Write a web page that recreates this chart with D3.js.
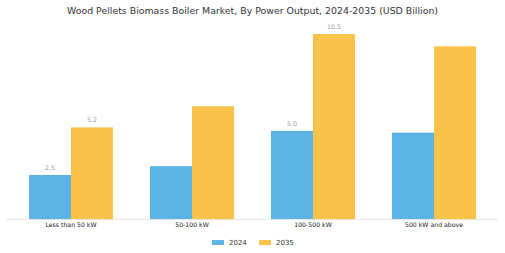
<!DOCTYPE html>
<html>
<head>
<meta charset="utf-8">
<script src="https://cdn.jsdelivr.net/npm/d3@7"></script>
<style>
  body { margin: 0; background: #fff; }
  svg { display: block; font-family: "DejaVu Sans", sans-serif; }
</style>
</head>
<body>
<svg id="chart" width="505" height="253"></svg>
<script>
var categories = ["Less than 50 kW", "50-100 kW", "100-500 kW", "500 kW and above"];
var years = ["2024", "2035"];
var values2024 = [2.5, 3.0, 5.0, 4.9];
var values2035 = [5.2, 6.4, 10.5, 9.8];
// only these bars carry a value label in the original
var labelled = ["Less than 50 kW", "100-500 kW"];
var colors = ["#5db3e6", "#f9c34b"];

var svg = d3.select("#chart");
var width = 505, height = 253;

var data = categories.map((c, i) => ({
    cat: c,
    vals: [{ year: "2024", v: values2024[i] }, { year: "2035", v: values2035[i] }]
}));

var x = d3.scaleBand()
    .domain(categories)
    .range([10.5, 494.5])
    .paddingInner(0.306)
    .paddingOuter(0.153);

var xSub = d3.scaleBand()
    .domain(years)
    .range([0, x.bandwidth()]);

var y = d3.scaleLinear()
    .domain([0, 10.5])
    .range([219, 34]);

var color = d3.scaleOrdinal().domain(years).range(colors);

svg.append("text")
    .attr("x", width / 2)
    .attr("y", 13.5)
    .attr("text-anchor", "middle")
    .attr("fill", "#333")
    .style("font-size", "9.4px")
    .text("Wood Pellets Biomass Boiler Market, By Power Output, 2024-2035 (USD Billion)");

var groups = svg.append("g")
    .selectAll("g")
    .data(data)
    .join("g")
    .attr("transform", d => `translate(${x(d.cat)},0)`);

groups.selectAll("rect")
    .data(d => d.vals)
    .join("rect")
    .attr("x", d => xSub(d.year))
    .attr("y", d => y(d.v))
    .attr("width", xSub.bandwidth())
    .attr("height", d => y(0) - y(d.v))
    .attr("fill", d => color(d.year));

groups.filter(d => labelled.includes(d.cat))
    .selectAll("text")
    .data(d => d.vals)
    .join("text")
    .attr("x", d => xSub(d.year) + xSub.bandwidth() / 2)
    .attr("y", d => y(d.v) - 5)
    .attr("text-anchor", "middle")
    .attr("fill", "#999")
    .style("font-size", "6.3px")
    .text(d => d.v.toFixed(1));

// x axis
var axis = svg.append("g")
    .attr("transform", `translate(0,${y(0)})`)
    .call(d3.axisBottom(x).tickSize(2).tickSizeOuter(0));
axis.select(".domain")
    .attr("d", "M6,0.5H498")
    .attr("stroke", "#e6e6e6");
axis.selectAll(".tick line").attr("stroke", "#e6e6e6");
axis.selectAll(".tick text")
    .attr("dy", "0.71em")
    .attr("y", 4)
    .attr("fill", "#222")
    .style("font-family", "DejaVu Sans, sans-serif")
    .style("font-size", "6.2px");

// legend
var legend = svg.append("g")
    .selectAll("g")
    .data(years)
    .join("g")
    .attr("transform", (d, i) => `translate(${212 + i * 47},242)`);

legend.append("rect")
    .attr("y", -2)
    .attr("width", 12)
    .attr("height", 5)
    .attr("fill", d => color(d));

legend.append("text")
    .attr("x", 17)
    .attr("y", 0.5)
    .attr("dy", "0.35em")
    .attr("fill", "#333")
    .style("font-size", "7px")
    .text(d => d);
</script>
</body>
</html>
